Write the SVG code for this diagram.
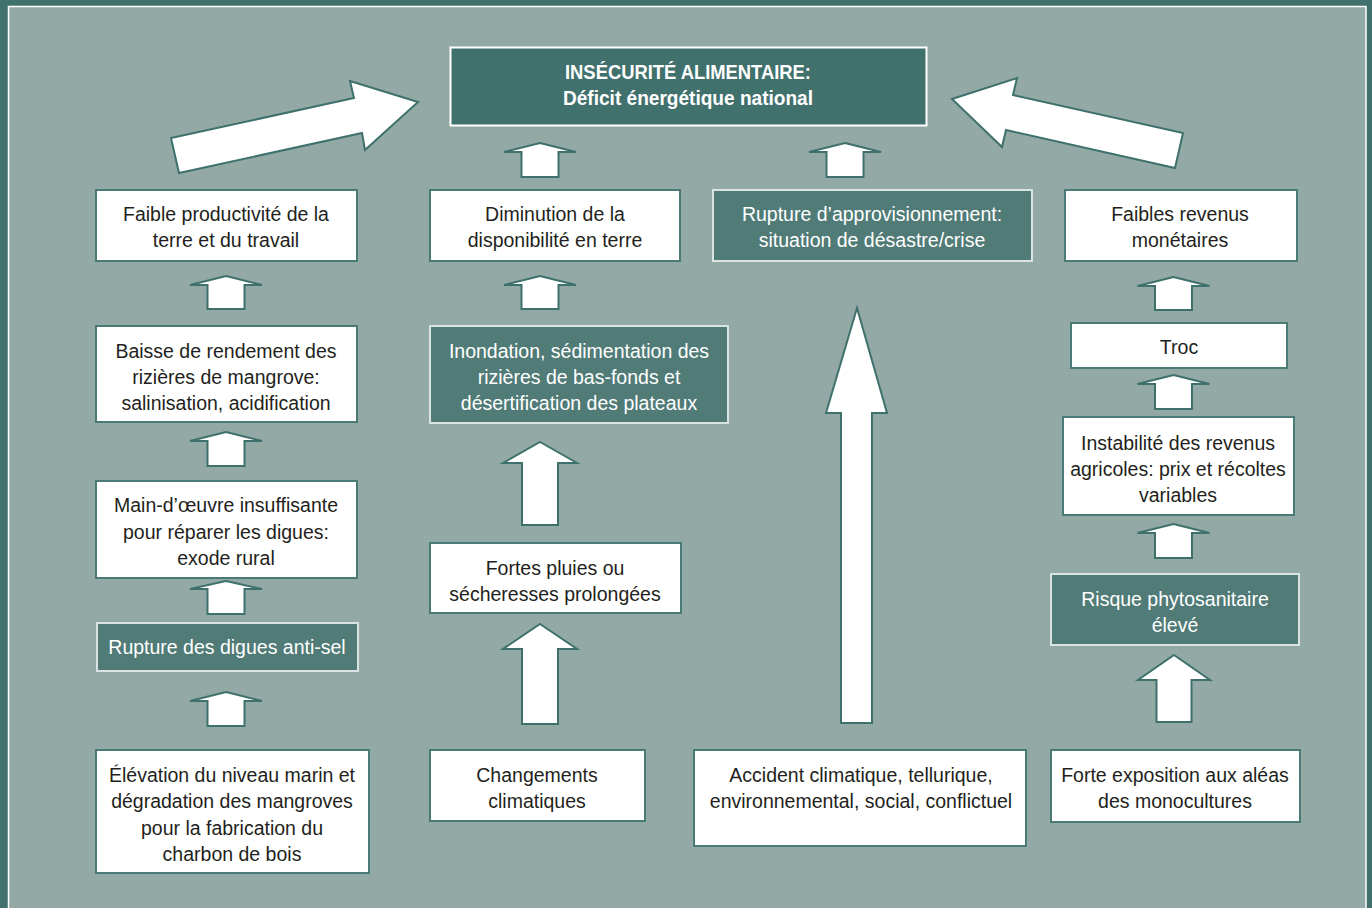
<svg xmlns="http://www.w3.org/2000/svg" width="1372" height="908" viewBox="0 0 1372 908">
<style>
.wbox{fill:#ffffff;stroke:#4a7a76;stroke-width:2}
.dbox{fill:#507b77;stroke:#d9e3e1;stroke-width:2}
.tbox{fill:#41716d;stroke:#ffffff;stroke-width:2}
.arr{fill:#ffffff;stroke:#3f716c;stroke-width:2;stroke-linejoin:miter}
.t{font-family:"Liberation Sans",Arial,sans-serif;font-size:19.5px;fill:#231f20;text-anchor:middle}
.tw{fill:#ffffff}
.tb{font-weight:bold;fill:#ffffff;font-size:21px}
</style>
<rect x="0" y="0" width="1372" height="908" fill="#41716d"/>
<rect x="8.5" y="6.5" width="1357.5" height="910" fill="#93a9a6" stroke="#ffffff" stroke-width="1.5"/>

<g id="connectors">
<polygon class="arr" points="171,138 354,98 350,81 418,102 365,150 362,133 179,173"/>
<polygon class="arr" points="952,99 1017,78 1013,95 1183,133 1175,168 1006,130 1002,147"/>
<polygon class="arr" points="540,143 576,152 558.5,152 558.5,177 521.5,177 521.5,152 504,152"/>
<polygon class="arr" points="845,143 881,152 863.5,152 863.5,177 826.5,177 826.5,152 809,152"/>
<polygon class="arr" points="226,276 262,285 244.5,285 244.5,309 207.5,309 207.5,285 190,285"/>
<polygon class="arr" points="540,276 576,285 558.5,285 558.5,309 521.5,309 521.5,285 504,285"/>
<polygon class="arr" points="1173.5,277 1209.5,286 1192,286 1192,310 1155,310 1155,286 1137.5,286"/>
<polygon class="arr" points="226,432 262,441 244.5,441 244.5,466 207.5,466 207.5,441 190,441"/>
<polygon class="arr" points="226,581 262,589 244.5,589 244.5,614 207.5,614 207.5,589 190,589"/>
<polygon class="arr" points="226,692 262,701 244.5,701 244.5,726 207.5,726 207.5,701 190,701"/>
<polygon class="arr" points="1173.5,375 1209.5,384 1192,384 1192,409 1155,409 1155,384 1137.5,384"/>
<polygon class="arr" points="1173.5,524 1209.5,533 1192,533 1192,558 1155,558 1155,533 1137.5,533"/>
<polygon class="arr" points="540,442 577,463 558,463 558,525 522,525 522,463 503,463"/>
<polygon class="arr" points="540,624 577,649 558,649 558,724 522,724 522,649 503,649"/>
<polygon class="arr" points="1174,655 1210,680 1191.5,680 1191.5,722 1156.5,722 1156.5,680 1138,680"/>
<polygon class="arr" points="857,308 887,413 872,413 872,723 841,723 841,413 826,413"/>
</g>

<g id="top">
<rect class="tbox" x="450.5" y="47.5" width="476" height="78"/>
<text class="t tb" x="688" y="79" textLength="246" lengthAdjust="spacingAndGlyphs">INSÉCURITÉ ALIMENTAIRE:</text>
<text class="t tb" x="688" y="105" textLength="250" lengthAdjust="spacingAndGlyphs">Déficit énergétique national</text>
</g>

<g id="a1">
<rect class="wbox" x="96" y="190" width="261" height="71"/>
<text class="t" x="226" y="221">Faible productivité de la</text>
<text class="t" x="226" y="247">terre et du travail</text>
</g>
<g id="b1">
<rect class="wbox" x="430" y="190" width="250" height="71"/>
<text class="t" x="555" y="221">Diminution de la</text>
<text class="t" x="555" y="247">disponibilité en terre</text>
</g>
<g id="c1">
<rect class="dbox" x="713" y="190" width="319" height="71"/>
<text class="t tw" x="872" y="221">Rupture d’approvisionnement:</text>
<text class="t tw" x="872" y="247">situation de désastre/crise</text>
</g>
<g id="d1">
<rect class="wbox" x="1065" y="190" width="232" height="71"/>
<text class="t" x="1180" y="221">Faibles revenus</text>
<text class="t" x="1180" y="247">monétaires</text>
</g>

<g id="a2">
<rect class="wbox" x="96" y="326" width="261" height="96"/>
<text class="t" x="226" y="358">Baisse de rendement des</text>
<text class="t" x="226" y="384">rizières de mangrove:</text>
<text class="t" x="226" y="410">salinisation, acidification</text>
</g>
<g id="b2">
<rect class="dbox" x="430" y="326" width="298" height="97"/>
<text class="t tw" x="579" y="358">Inondation, sédimentation des</text>
<text class="t tw" x="579" y="384">rizières de bas-fonds et</text>
<text class="t tw" x="579" y="410">désertification des plateaux</text>
</g>
<g id="d2">
<rect class="wbox" x="1071" y="323" width="216" height="45"/>
<text class="t" x="1179" y="354">Troc</text>
</g>
<g id="d3">
<rect class="wbox" x="1063" y="417" width="231" height="98"/>
<text class="t" x="1178" y="450">Instabilité des revenus</text>
<text class="t" x="1178" y="476">agricoles: prix et récoltes</text>
<text class="t" x="1178" y="502">variables</text>
</g>
<g id="a3">
<rect class="wbox" x="96" y="481" width="261" height="97"/>
<text class="t" x="226" y="512">Main-d’œuvre insuffisante</text>
<text class="t" x="226" y="539">pour réparer les digues:</text>
<text class="t" x="226" y="565">exode rural</text>
</g>
<g id="b3">
<rect class="wbox" x="430" y="543" width="251" height="70"/>
<text class="t" x="555" y="575">Fortes pluies ou</text>
<text class="t" x="555" y="601">sécheresses prolongées</text>
</g>
<g id="d4">
<rect class="dbox" x="1051" y="574" width="248" height="71"/>
<text class="t tw" x="1175" y="606">Risque phytosanitaire</text>
<text class="t tw" x="1175" y="632">élevé</text>
</g>
<g id="a4">
<rect class="dbox" x="97" y="623" width="261" height="48"/>
<text class="t tw" x="227" y="654">Rupture des digues anti-sel</text>
</g>

<g id="a5">
<rect class="wbox" x="96" y="750" width="273" height="123"/>
<text class="t" x="232" y="782">Élévation du niveau marin et</text>
<text class="t" x="232" y="808">dégradation des mangroves</text>
<text class="t" x="232" y="835">pour la fabrication du</text>
<text class="t" x="232" y="861">charbon de bois</text>
</g>
<g id="b4">
<rect class="wbox" x="430" y="750" width="215" height="71"/>
<text class="t" x="537" y="782">Changements</text>
<text class="t" x="537" y="808">climatiques</text>
</g>
<g id="c2">
<rect class="wbox" x="694" y="750" width="332" height="96"/>
<text class="t" x="861" y="782">Accident climatique, tellurique,</text>
<text class="t" x="861" y="808">environnemental, social, conflictuel</text>
</g>
<g id="d5">
<rect class="wbox" x="1051" y="750" width="249" height="72"/>
<text class="t" x="1175" y="782">Forte exposition aux aléas</text>
<text class="t" x="1175" y="808">des monocultures</text>
</g>
</svg>
